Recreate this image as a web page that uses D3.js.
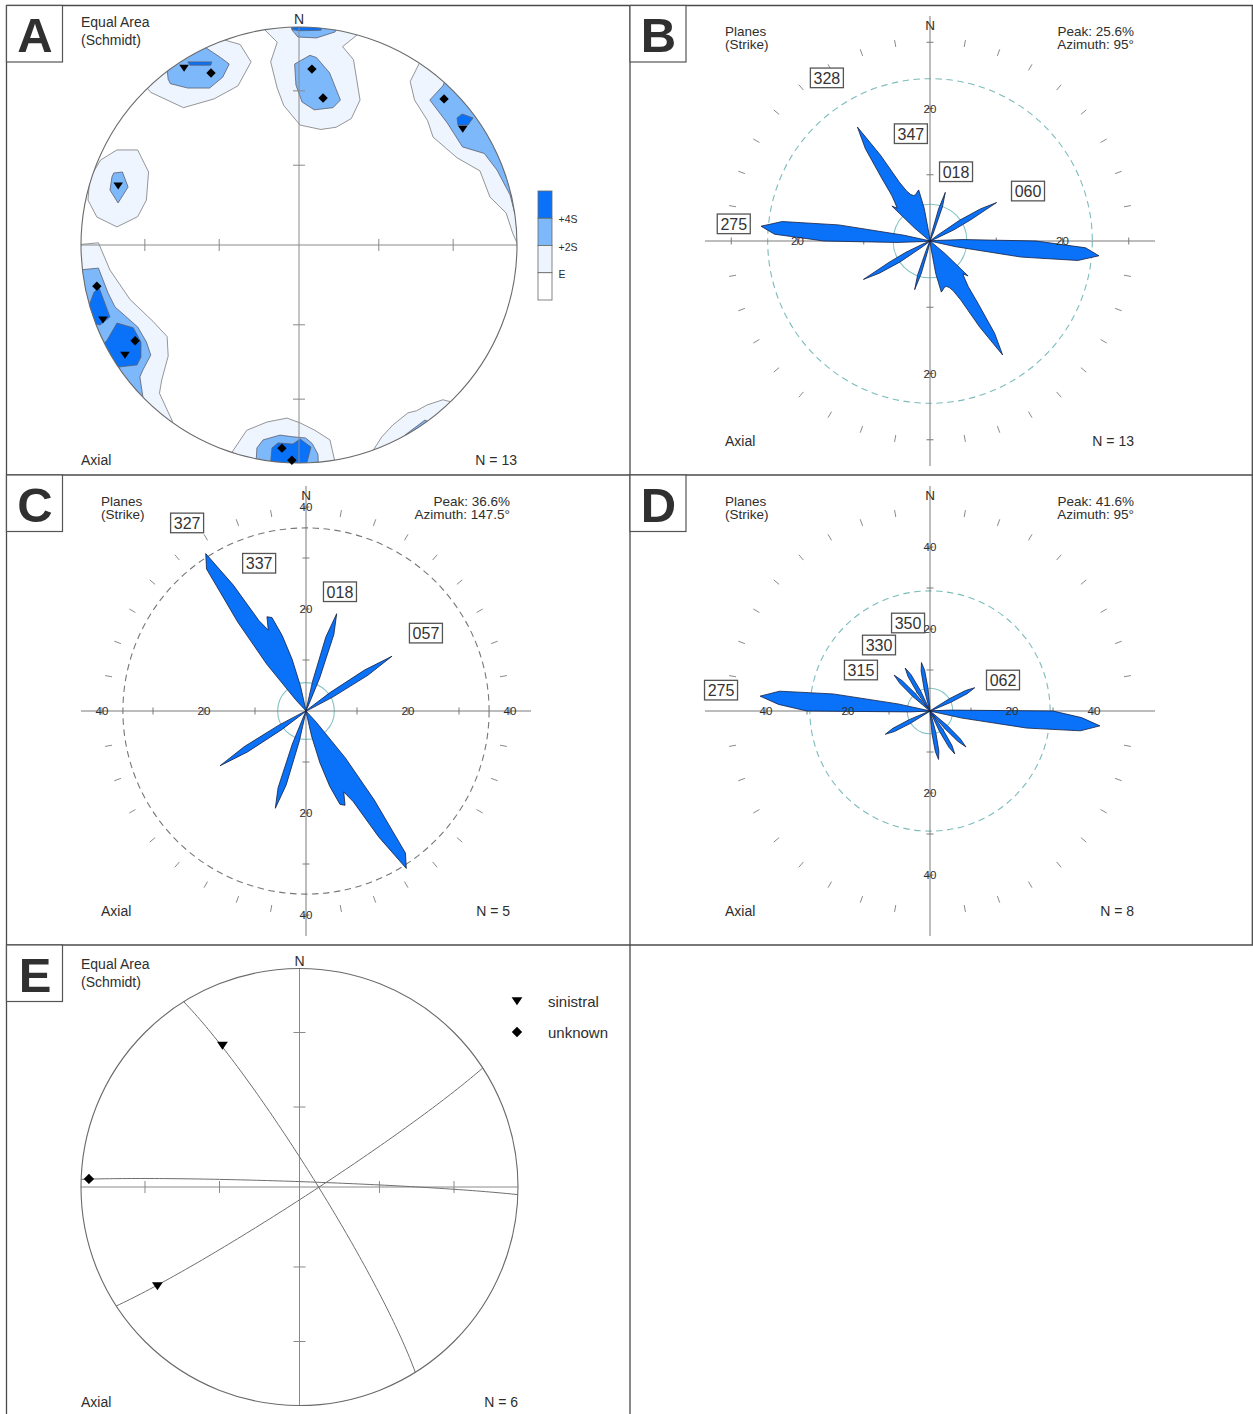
<!DOCTYPE html>
<html>
<head>
<meta charset="utf-8">
<script src="https://cdn.jsdelivr.net/npm/d3@7"></script>
<style>
html, body { margin: 0; padding: 0; background: #fff; }
svg text { font-family: "Liberation Sans", Arial, Helvetica, sans-serif; fill: #2e2e2e; }
</style>
</head>
<body>
<svg id="fig" width="1253" height="1414"></svg>
<script>
// ---------------------------------------------------------------
// Rose diagrams: strike frequency (%) per 2.5° bin from 0° to 177.5°
// (axial data, so each bin is repeated at azimuth + 180°)
// ---------------------------------------------------------------
const binWidth = 2.5;

const roseAllPlanes = [
  0, 0, 0, 0, 0.3, 1.5, 5, 7.7,
  5.5, 1.5, 0.3, 0, 0, 0, 0, 0,
  0, 0, 0, 0, 0.3, 1.5, 5.5, 9,
  11.6, 7, 4, 1, 0, 0, 0, 0,
  0, 0, 1, 5, 16, 23.5, 25.6, 22.5,
  14, 4, 0.3, 0, 0, 0, 0, 0,
  0, 0, 0, 0.3, 3, 7.8, 7, 7.8,
  9, 12, 17, 20.4, 15, 10, 8.3, 7.6,
  7.3, 7.3, 7.6, 7.9, 5, 1, 0, 0
];

const roseSinistral = [
  0, 0, 0, 0, 0.5, 6, 15, 20,
  16, 7, 0.5, 0, 0, 0, 0, 0,
  0, 0, 0, 0, 1, 6, 14, 20,
  14, 6, 1, 0, 0, 0, 0, 0,
  0, 0, 0, 0, 0, 0, 0, 0,
  0, 0, 0, 0, 0, 0, 0, 0,
  0, 0, 0, 0, 0, 0, 0, 3,
  12, 22, 34, 36.6, 28.5, 20, 17.5, 20,
  19.5, 15.5, 10.5, 5, 0.5, 0, 0, 0
];

const roseUnknown = [
  0, 0, 0, 0, 0, 0, 0, 0,
  0, 0, 0, 0, 0, 0, 0, 0,
  0, 0, 0, 0, 0, 0, 0.6, 5.5,
  10, 12.3, 10, 5.5, 0.6, 0, 0, 0,
  0, 0, 0.5, 5, 30, 37, 41.6, 37,
  24, 8, 0.5, 0, 0, 0, 0, 0,
  0, 0, 0, 0.6, 5.5, 10, 12.4, 10,
  5.5, 0.8, 5.5, 10, 12.1, 10, 5.5, 0.6,
  0, 0.6, 5.5, 10, 12, 10, 5.5, 0.6
];

const rosePeak = [25.6, 36.6, 41.6];
const rosePeakAzimuth = ["95", "147.5", "95"];
const roseCount = [13, 5, 8];
const roseRefCircle = [24.5, 35.9, 29.3];   // dashed reference circle, %
const uniformPct = 100 / 18;                 // uniform distribution for 10° axial classes

const roseLabelsB = ["328", "347", "018", "060", "275"];
const roseLabelsC = ["327", "337", "018", "057"];
const roseLabelsD = ["350", "330", "315", "062", "275"];

// ---------------------------------------------------------------
// Panel A: poles (trend / plunge, lower hemisphere) and density contours
// ---------------------------------------------------------------
const poleTrend  = [327.0, 332.9, 4.2, 9.3, 44.8, 54.7, 288.1, 258.5, 249.1, 239.7, 237.7, 184.8, 181.9];
const polePlunge = [3.6, 12.4, 20.2, 32.2, 6.2, 8.8, 13.8, 6.0, 4.2, 14.0, 6.2, 7.2, 1.4];
const poleSense  = ["sinistral", "unknown", "unknown", "unknown", "unknown", "sinistral", "sinistral",
                    "unknown", "sinistral", "unknown", "sinistral", "unknown", "unknown"];

// contour rings in percent of net radius (x = east, y = north); clipped to the primitive
const contourLevels = ["E", "+2S", "+4S"];
const contourFill = ["#eef5fe", "#7db8fa", "#0a72f8"];

const contoursE = [
  [[-73,76],[-68,70],[-53,63],[-39,67],[-28,73],[-22,84],[-27,92],[-34,94],[-39,101]],
  [[-20,103],[-16.5,99.5],[-10,93],[-13,84],[-10,72],[-7,64],[0.5,55],[10,53],[17,54],[24,58],[28,66.5],[25,85],[20,91],[26.6,96.3],[30,105]],
  [[57,87],[51,75],[53,66.5],[59,57],[61.5,49.5],[72.5,40],[83,34],[87.6,22],[95,14.7],[98,5.5],[101.4,-2.3],[112.8,-2.3],[112.8,87.2]],
  [[-91,39],[-83.5,43.6],[-74,43.6],[-69,33.5],[-70,20.6],[-74,13],[-83.5,8.3],[-92.7,12.8],[-96.8,20.6],[-96,30.7]],
  [[-103,0],[-92,1],[-86.7,-11.5],[-77.5,-25],[-67,-35],[-60.5,-42],[-60,-51],[-63,-62],[-64,-68],[-58,-81],[-64,-92],[-110,-25]],
  [[-30.7,-95],[-24,-85],[-14.7,-81.2],[-5.5,-79.4],[0.5,-81.6],[7.3,-85],[14.2,-89.4],[16.5,-99.5],[17,-108],[-34,-108]],
  [[33.5,-95],[38,-88],[43,-82.6],[50,-77],[54,-76],[58.7,-73.4],[66,-71],[70,-72],[78,-80],[33.5,-105.5]]
];

const contours2S = [
  [[-60,76],[-61,85],[-45,92],[-36,86],[-32,83],[-35,77],[-41,72],[-51,72],[-59,74]],
  [[-2,83],[5,87],[8,86],[14,79],[19,66.5],[15.6,63],[7,62],[1.4,65.6],[-1.4,73.4]],
  [[-4,103],[19,103],[16.5,97.7],[8,95],[-0.5,95.4],[-3.2,98.6]],
  [[60,66.5],[66,73],[69,80],[106,43.6],[101.4,12.4],[99.2,13.8],[96.8,23],[90.8,34.4],[85,42],[75,45],[68,56]],
  [[-85,33],[-81,33.5],[-78.4,26.6],[-83,19.3],[-86.7,25.2],[-85.8,31.2]],
  [[-101,-11.5],[-92,-10.6],[-87.6,-22],[-84.4,-28.4],[-74,-37.6],[-70,-44.5],[-68,-50.5],[-71.6,-57.3],[-73,-60.5],[-71.6,-69.7],[-82,-73.4],[-105,-25]],
  [[-19.3,-93.1],[-16.5,-89.4],[-8.7,-87.2],[-2.8,-88],[3,-88.5],[6,-91],[8.7,-96],[9,-105],[-20,-105]],
  [[48.6,-87.2],[57.8,-80.3],[61,-82],[65,-90],[46,-94]]
];

const contours4S = [
  [[-51,84],[-40,84],[-40.5,82.5],[-50,82.5]],
  [[-4,103],[12,103],[10,98.5],[0,98.3],[-3,98.8]],
  [[72.5,58.3],[74.8,60.1],[79.8,58.3],[77.5,55],[72.9,55]],
  [[-94,-21.6],[-91.7,-19.7],[-86.7,-33],[-91.3,-36.7],[-99,-35]],
  [[-88,-43.6],[-83.5,-35.8],[-76,-38],[-72.5,-44.5],[-72.5,-51.4],[-74.3,-55],[-83,-56],[-86.7,-50.5],[-92,-48]],
  [[-12.4,-93.1],[-9.6,-90.8],[-2.8,-91.3],[0.5,-89],[5.5,-92.7],[2.8,-103],[-13.3,-103]]
];

// ---------------------------------------------------------------
// Panel E: fault planes (strike / dip, right-hand rule) and striae
// ---------------------------------------------------------------
const planeStrike = [328, 57, 272];
const planeDip    = [84, 86, 88];
const striaTrend  = [331.4, 235.1, 272.2];
const striaPlunge = [27.2, 21.8, 4.0];
const striaSense  = ["sinistral", "sinistral", "unknown"];
const senseNames  = ["sinistral", "unknown"];

// ---------------------------------------------------------------
const svg = d3.select("#fig");
const toRad = Math.PI / 180;

const symbolPath = {
  sinistral: "M-4.8,-3.3L4.8,-3.3L0,3.7Z",
  unknown: "M0,-4.7L4.7,0L0,4.7L-4.7,0Z"
};
const symbolPathLarge = {
  sinistral: "M-5.4,-3.8L5.4,-3.8L0,4.2Z",
  unknown: "M0,-5.2L5.2,0L0,5.2L-5.2,0Z"
};

// lower-hemisphere equal-area (Schmidt) projection, unit primitive
function projectEA(trend, plunge) {
  const r = Math.SQRT2 * Math.sin((90 - plunge) * toRad / 2);
  return [r * Math.sin(trend * toRad), r * Math.cos(trend * toRad)];
}

function greatCircle(strike, dip) {
  const s = strike * toRad, dd = (strike + 90) * toRad, d = dip * toRad;
  const sv = [Math.cos(s), Math.sin(s), 0];
  const dv = [Math.cos(d) * Math.cos(dd), Math.cos(d) * Math.sin(dd), Math.sin(d)];
  const pts = [];
  for (let a = 0; a <= 180; a += 2) {
    const c = Math.cos(a * toRad), sn = Math.sin(a * toRad);
    const v = [c * sv[0] + sn * dv[0], c * sv[1] + sn * dv[1], c * sv[2] + sn * dv[2]];
    const plunge = Math.asin(Math.max(-1, Math.min(1, v[2]))) / toRad;
    const trend = Math.atan2(v[1], v[0]) / toRad;
    pts.push(projectEA(trend, plunge));
  }
  return pts;
}

// ---------------- frame and panel letters ----------------
const frame = svg.append("g").attr("stroke", "#4a4a4a").attr("stroke-width", 1.3).attr("fill", "none");
frame.append("line").attr("x1", 6.5).attr("y1", 5.5).attr("x2", 1253).attr("y2", 5.5);
frame.append("line").attr("x1", 6.5).attr("y1", 5).attr("x2", 6.5).attr("y2", 1414);
frame.append("line").attr("x1", 630).attr("y1", 5).attr("x2", 630).attr("y2", 1414);
frame.append("line").attr("x1", 1252.3).attr("y1", 5).attr("x2", 1252.3).attr("y2", 945);
frame.append("line").attr("x1", 6.5).attr("y1", 475).attr("x2", 1253).attr("y2", 475);
frame.append("line").attr("x1", 6.5).attr("y1", 945).attr("x2", 1253).attr("y2", 945);

const panelLetters = ["A", "B", "C", "D", "E"];
const panelOrigins = [[6.5, 5.5], [630, 5.5], [6.5, 475], [630, 475], [6.5, 945]];
panelLetters.forEach((L, i) => {
  const [ox, oy] = panelOrigins[i];
  svg.append("rect").attr("x", ox).attr("y", oy).attr("width", 56).attr("height", 56.5)
    .attr("fill", "#fff").attr("stroke", "#555").attr("stroke-width", 1.2);
  svg.append("text").attr("x", ox + 28.5).attr("y", oy + 46.5)
    .attr("text-anchor", "middle").attr("font-size", 49).attr("font-weight", "bold")
    .style("fill", "#303030").text(L);
});

// ---------------- stereonet base ----------------
function drawNet(cx, cy, R, id) {
  const g = svg.append("g");
  const x = d3.scaleLinear().domain([-1, 1]).range([cx - R, cx + R]);
  const y = d3.scaleLinear().domain([-1, 1]).range([cy + R, cy - R]);
  svg.append("defs").append("clipPath").attr("id", id)
    .append("circle").attr("cx", cx).attr("cy", cy).attr("r", R);
  return { g, x, y, cx, cy, R, clip: `url(#${id})` };
}

function netFrame(net) {
  const { g, x, y, cx, cy, R } = net;
  const ax = g.append("g").attr("stroke", "#8a8a8a").attr("stroke-width", 1).attr("fill", "none");
  ax.append("line").attr("x1", x(-1)).attr("x2", x(1)).attr("y1", y(0)).attr("y2", y(0));
  ax.append("line").attr("x1", x(0)).attr("x2", x(0)).attr("y1", y(1)).attr("y2", y(-1));
  // plunge ticks at 30° and 60°
  const tickR = [30, 60].map(p => projectEA(0, p)[1]);
  tickR.forEach(t => {
    [-t, t].forEach(v => {
      ax.append("line").attr("x1", x(v)).attr("x2", x(v)).attr("y1", y(0) - 6).attr("y2", y(0) + 6);
      ax.append("line").attr("y1", y(v)).attr("y2", y(v)).attr("x1", x(0) - 6).attr("x2", x(0) + 6);
    });
  });
  g.append("circle").attr("cx", cx).attr("cy", cy).attr("r", R)
    .attr("fill", "none").attr("stroke", "#6a6a6a").attr("stroke-width", 1.1);
}

function netTexts(net, n) {
  const { g, cx, cy, R } = net;
  g.append("text").attr("x", cx - R).attr("y", cy - 218).attr("font-size", 14).text("Equal Area");
  g.append("text").attr("x", cx - R).attr("y", cy - 200).attr("font-size", 14).text("(Schmidt)");
  g.append("text").attr("x", cx).attr("y", cy - 221).attr("text-anchor", "middle").attr("font-size", 14).text("N");
  g.append("text").attr("x", cx - R).attr("y", cy + 220).attr("font-size", 14).text("Axial");
  g.append("text").attr("x", cx + R).attr("y", cy + 220).attr("text-anchor", "end").attr("font-size", 14).text(`N = ${n}`);
}

// ---------------- Panel A ----------------
(function () {
  const net = drawNet(299, 245, 218, "clipA");
  const xp = d3.scaleLinear().domain([-100, 100]).range([net.cx - net.R, net.cx + net.R]);
  const yp = d3.scaleLinear().domain([-100, 100]).range([net.cy + net.R, net.cy - net.R]);
  const ring = d3.line().x(d => xp(d[0])).y(d => yp(d[1])).curve(d3.curveLinearClosed);
  const cg = net.g.append("g").attr("clip-path", net.clip);
  [contoursE, contours2S, contours4S].forEach((set, li) => {
    cg.append("g").selectAll("path").data(set).join("path")
      .attr("d", ring)
      .attr("fill", contourFill[li])
      .attr("stroke", li === 0 ? "#7b7b7b" : "#5c6070")
      .attr("stroke-width", 0.8)
      .attr("stroke-linejoin", "round");
  });
  netFrame(net);
  const poles = poleTrend.map((t, i) => ({ p: projectEA(t, polePlunge[i]), s: poleSense[i] }));
  net.g.append("g").selectAll("path").data(poles).join("path")
    .attr("transform", d => `translate(${net.x(d.p[0])},${net.y(d.p[1])})`)
    .attr("d", d => symbolPath[d.s]).attr("fill", "#000");
  netTexts(net, poleTrend.length);

  // contour key
  const key = svg.append("g");
  const kx = 538, kw = 14;
  const ky = d3.scaleBand().domain(["+4S", "+2S", "E", "0"]).range([191, 300]);
  const keyFill = { "+4S": contourFill[2], "+2S": contourFill[1], "E": contourFill[0], "0": "#fff" };
  ky.domain().forEach(k => {
    key.append("rect").attr("x", kx).attr("y", ky(k)).attr("width", kw).attr("height", ky.bandwidth())
      .attr("fill", keyFill[k]).attr("stroke", "#666").attr("stroke-width", 0.8);
  });
  contourLevels.slice().reverse().forEach(k => {
    key.append("text").attr("x", kx + kw + 6.5).attr("y", ky(k) + ky.bandwidth() + 5)
      .attr("font-size", 10.5).text(k);
  });
})();

// ---------------- Rose diagrams ----------------
function drawRose(o) {
  const g = svg.append("g").attr("transform", `translate(${o.cx},${o.cy})`);
  const r = d3.scaleLinear().domain([0, 10]).range([0, 10 * o.pxPerPct]);
  const half = 225;

  // outer azimuth ring ticks every 10°
  const ringAz = d3.range(10, 360, 10).filter(a => a % 90 !== 0);
  g.append("g").selectAll("line").data(ringAz).join("line")
    .attr("x1", a => 197 * Math.sin(a * toRad)).attr("y1", a => -197 * Math.cos(a * toRad))
    .attr("x2", a => 204 * Math.sin(a * toRad)).attr("y2", a => -204 * Math.cos(a * toRad))
    .attr("stroke", "#8a8a8a").attr("stroke-width", 1);

  // reference circles
  g.append("circle").attr("r", r(o.refPct)).attr("fill", "none")
    .attr("stroke", o.refColor).attr("stroke-width", 1.1).attr("stroke-dasharray", "6.5,4.5");
  g.append("circle").attr("r", r(uniformPct)).attr("fill", "none")
    .attr("stroke", "#86c4c4").attr("stroke-width", 1.1);

  // axes
  const ax = g.append("g").attr("stroke", "#7a7a7a").attr("stroke-width", 1);
  ax.append("line").attr("x1", -half).attr("x2", half).attr("y1", 0).attr("y2", 0);
  ax.append("line").attr("y1", -half).attr("y2", half).attr("x1", 0).attr("x2", 0);
  o.ticks.forEach(t => {
    [-1, 1].forEach(sg => {
      ax.append("line").attr("x1", sg * r(t)).attr("x2", sg * r(t)).attr("y1", -3.5).attr("y2", 3.5);
      ax.append("line").attr("y1", sg * r(t)).attr("y2", sg * r(t)).attr("x1", -3.5).attr("x2", 3.5);
    });
  });

  // petals
  const pts = o.values.map((v, i) => [i * binWidth, v])
    .concat(o.values.map((v, i) => [180 + i * binWidth, v]));
  const petal = d3.lineRadial().angle(d => d[0] * toRad).radius(d => r(d[1])).curve(d3.curveLinearClosed);
  g.append("path").datum(pts).attr("d", petal)
    .attr("fill", "#0a72f8").attr("stroke", "#152040").attr("stroke-width", 0.8)
    .attr("stroke-linejoin", "round");

  // axis values
  o.axisLabels.forEach(t => {
    [[r(t), 0], [-r(t), 0], [0, r(t)], [0, -r(t)]].forEach(([x, y]) => {
      g.append("text").attr("x", x).attr("y", y + 4).attr("text-anchor", "middle")
        .attr("font-size", 11.5).text(t);
    });
  });

  // direction labels
  o.labels.forEach((txt, i) => {
    const [az, d] = o.labelSpots[i];
    const lx = d * Math.sin(az * toRad), ly = -d * Math.cos(az * toRad);
    g.append("rect").attr("x", lx - 16.5).attr("y", ly - 9.8).attr("width", 33).attr("height", 19.6)
      .attr("fill", "#fff").attr("stroke", "#555").attr("stroke-width", 1.3);
    g.append("text").attr("x", lx).attr("y", ly + 5.8).attr("text-anchor", "middle")
      .attr("font-size", 16).style("fill", "#333").text(txt);
  });

  // captions
  g.append("text").attr("x", 0).attr("y", -211).attr("text-anchor", "middle").attr("font-size", 13.5).text("N");
  g.append("text").attr("x", -205).attr("y", -205).attr("font-size", 13.5).text("Planes");
  g.append("text").attr("x", -205).attr("y", -192).attr("font-size", 13.5).text("(Strike)");
  g.append("text").attr("x", 204).attr("y", -205).attr("text-anchor", "end").attr("font-size", 13.5)
    .text(`Peak: ${o.peak}%`);
  g.append("text").attr("x", 204).attr("y", -192).attr("text-anchor", "end").attr("font-size", 13.5)
    .text(`Azimuth: ${o.azimuth}°`);
  g.append("text").attr("x", -205).attr("y", 205).attr("font-size", 14).text("Axial");
  g.append("text").attr("x", 204).attr("y", 205).attr("text-anchor", "end").attr("font-size", 14)
    .text(`N = ${o.count}`);
}

drawRose({
  cx: 930, cy: 241, pxPerPct: 6.625, values: roseAllPlanes,
  ticks: [10, 20, 30], axisLabels: [20],
  refPct: roseRefCircle[0], refColor: "#7dbcbc",
  labels: roseLabelsB,
  labelSpots: [[327.7, 193], [349.9, 109], [20.6, 74], [63, 110], [275, 197]],
  peak: rosePeak[0], azimuth: rosePeakAzimuth[0], count: roseCount[0]
});

drawRose({
  cx: 306, cy: 711, pxPerPct: 5.1, values: roseSinistral,
  ticks: [10, 20, 30, 40], axisLabels: [20, 40],
  refPct: roseRefCircle[1], refColor: "#777",
  labels: roseLabelsC,
  labelSpots: [[327.7, 222.5], [342.4, 155], [15.9, 124], [57, 143]],
  peak: rosePeak[1], azimuth: rosePeakAzimuth[1], count: roseCount[1]
});

drawRose({
  cx: 930, cy: 711, pxPerPct: 4.1, values: roseUnknown,
  ticks: [10, 20, 30, 40], axisLabels: [20, 40],
  refPct: roseRefCircle[2], refColor: "#7dbcbc",
  labels: roseLabelsD,
  labelSpots: [[346, 90.7], [322.3, 83.4], [300.7, 80.3], [67, 79.3], [275.7, 210]],
  peak: rosePeak[2], azimuth: rosePeakAzimuth[2], count: roseCount[2]
});

// ---------------- Panel E ----------------
(function () {
  const net = drawNet(299.5, 1187, 218.5, "clipE");
  netFrame(net);
  const gc = d3.line().x(d => net.x(d[0])).y(d => net.y(d[1]));
  net.g.append("g").selectAll("path")
    .data(planeStrike.map((s, i) => greatCircle(s, planeDip[i])))
    .join("path").attr("d", gc).attr("fill", "none").attr("stroke", "#6e6e6e").attr("stroke-width", 1);
  const striae = striaTrend.map((t, i) => ({ p: projectEA(t, striaPlunge[i]), s: striaSense[i] }));
  net.g.append("g").selectAll("path").data(striae).join("path")
    .attr("transform", d => `translate(${net.x(d.p[0])},${net.y(d.p[1])})`)
    .attr("d", d => symbolPathLarge[d.s]).attr("fill", "#000");
  netTexts(net, planeStrike.length + striaTrend.length);

  const lg = svg.append("g");
  senseNames.forEach((s, i) => {
    const ly = 1001 + i * 31;
    lg.append("path").attr("transform", `translate(517,${ly})`).attr("d", symbolPathLarge[s]).attr("fill", "#000");
    lg.append("text").attr("x", 548).attr("y", ly + 5.5).attr("font-size", 15).text(s);
  });
})();
</script>
</body>
</html>
